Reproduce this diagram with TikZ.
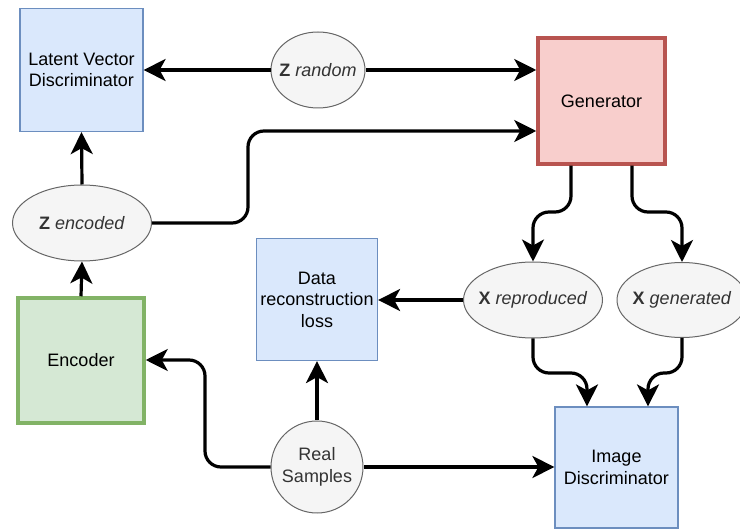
\documentclass[tikz,border=0pt]{standalone}
\usepackage{fontspec}
\setmainfont{Liberation Sans}
\usetikzlibrary{arrows.meta,shapes.geometric}
\definecolor{bluefill}{HTML}{DAE8FC}
\definecolor{bluestroke}{HTML}{6C8EBF}
\definecolor{redfill}{HTML}{F8CECC}
\definecolor{redstroke}{HTML}{B85450}
\definecolor{greenfill}{HTML}{D5E8D4}
\definecolor{greenstroke}{HTML}{82B366}
\definecolor{grayfill}{HTML}{F5F5F5}
\definecolor{graystroke}{HTML}{666666}
\definecolor{graytext}{HTML}{333333}
\newcommand{\zw}[1]{\makebox[0pt][c]{#1}}
\tikzset{
  basetext/.style={font=\fontsize{18}{21.5}\selectfont, align=center, inner sep=0pt},
  bluebox/.style={basetext, rectangle, draw=bluestroke, fill=bluefill, line width=1.2pt},
  redbox/.style={basetext, rectangle, draw=redstroke, fill=redfill, line width=3.5pt},
  greenbox/.style={basetext, rectangle, draw=greenstroke, fill=greenfill, line width=3.5pt},
  grayell/.style={basetext, ellipse, draw=graystroke, fill=grayfill, line width=1pt, text=graytext},
  graycirc/.style={basetext, circle, draw=graystroke, fill=grayfill, line width=1pt, text=graytext},
  conn/.style={draw=black, line width=3.2pt, -{Stealth[length=22pt,width=22pt,inset=6pt]}, rounded corners=16pt},
}
\begin{document}
\begin{tikzpicture}[x=1pt,y=-1pt]
\useasboundingbox (0,0) rectangle (740,529);
\node[bluebox, minimum width=123pt, minimum height=123pt] (lvd) at (81.5,70) {Latent Vector\\Discriminator};
\node[grayell, minimum width=94pt, minimum height=76pt] (zr) at (318,70) {\zw{\textbf{Z} \textit{random}}};
\node[redbox, minimum width=127pt, minimum height=126pt] (gen) at (601.5,101) {Generator};
\node[grayell, minimum width=139pt, minimum height=76pt] (ze) at (82,223) {\zw{\textbf{Z} \textit{encoded}}};
\node[greenbox, minimum width=126pt, minimum height=125pt] (enc) at (81,360.5) {Encoder};
\node[bluebox, minimum width=121pt, minimum height=122pt] (drl) at (317,299.5) {Data\\reconstruction\\loss};
\node[grayell, minimum width=139pt, minimum height=76pt] (xr) at (533,300) {\zw{\textbf{X} \textit{reproduced}}};
\node[grayell, minimum width=130pt, minimum height=75pt] (xg) at (682,300) {\zw{\textbf{X} \textit{generated}}};
\node[graycirc, minimum size=92pt] (rs) at (317,467) {Real\\Samples};
\node[bluebox, minimum width=123pt, minimum height=121pt] (id) at (616.5,467.5) {Image\\Discriminator};

\draw[conn] (zr.west) -- (lvd.east);
\draw[conn] (zr.east) -- (gen.west |- zr.east);
\draw[conn] (ze.north) -- (lvd.south);
\draw[conn] (ze.east) -- (248,223) -- (248,131) -- (gen.west |- 0,131);
\draw[conn] (enc.north) -- (ze.south);
\draw[conn] (rs.north) -- (drl.south);
\draw[conn] (rs.west) -- (205,467) -- (205,360) -- (enc.east |- 0,360);
\draw[conn] (rs.east) -- (id.west |- rs.east);
\draw[conn] (xr.west) -- (drl.east |- xr.west);
\draw[conn] (gen.south -| 571,0) -- (571,212) -- (533,212) -- (xr.north);
\draw[conn] (gen.south -| 632,0) -- (632,212) -- (682,212) -- (xg.north);
\draw[conn] (xr.south) -- (533,373) -- (587,373) -- (id.north -| 587,0);
\draw[conn] (xg.south) -- (682,373) -- (648,373) -- (id.north -| 648,0);
\end{tikzpicture}
\end{document}
